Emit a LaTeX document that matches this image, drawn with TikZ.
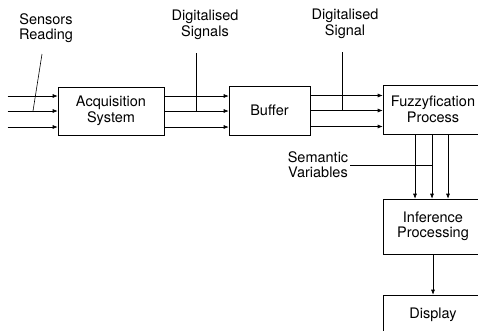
\documentclass[tikz,border=0pt]{standalone}
\usepackage{fontspec}
\setmainfont{TeX Gyre Heros}
\usetikzlibrary{arrows.meta,positioning}
\tikzset{
  ar/.style={-{Latex[length=5pt,width=4pt]},semithick},
  lead/.style={semithick},
  box/.style={draw,semithick,align=center,inner sep=2pt,font=\fontsize{14.5}{15.5}\selectfont},
  lbl/.style={align=center,inner sep=1pt,font=\fontsize{14.5}{15.5}\selectfont}
}
\begin{document}
\begin{tikzpicture}[x=1pt,y=-1pt]
\useasboundingbox (0,0) rectangle (478,330);
\clip (0,0) rectangle (478,330);
% blocks
\node[box,minimum width=106pt,minimum height=48pt] (acq) at (111,111) {Acquisition\\System};
\node[box,minimum width=81pt,minimum height=49pt] (buf) at (269.5,110.5) {Buffer};
\node[box,minimum width=100pt,minimum height=49pt] (fuz) at (433,109.5) {Fuzzyfication\\Process};
\node[box,minimum width=100pt,minimum height=55pt] (inf) at (433,226.5) {Inference\\Processing};
\node[box,minimum width=100pt,minimum height=40pt] (dsp) at (433,315) {Display};
% labels
\node[lbl] (sens) at (46,28) {Sensors\\Reading};
\node[lbl] (dsigs) at (205,25) {Digitalised\\Signals};
\node[lbl] (dsig) at (345,24) {Digitalised\\Signal};
\node[lbl] (sem) at (318,164.5) {Semantic\\Variables};
% signal flow
\foreach \o in {15,0,-16}{
  \coordinate (in\o) at ([xshift=-50pt,yshift=\o]acq.west);
  \draw[ar] (in\o) -- ([yshift=\o]acq.west);
  \draw[ar] ([yshift=\o]acq.east) -- ([yshift=\o]acq.east -| buf.west);
  \draw[ar] ([yshift=\o]buf.east) -- ([yshift=\o]buf.east -| fuz.west);
}
\foreach \o in {-18,-1,15}
  \draw[ar] ([xshift=\o]fuz.south) -- ([xshift=\o]fuz.south |- inf.north);
\draw[ar] (inf) -- (dsp);
% leaders
\coordinate (sensA) at (42,54);
\coordinate (sensB) at (33,111);
\draw[lead] (sensA) -- (sensB);
\coordinate (dsigsA) at (196,53);
\draw[lead] (dsigsA) -- (dsigsA |- acq);
\coordinate (dsigA) at (342,52);
\draw[lead] (dsigA) -- (dsigA |- buf);
\coordinate (semA) at (350,165);
\coordinate (semB) at (432,165);
\draw[lead] (semA) -- (semB);
\end{tikzpicture}
\end{document}
